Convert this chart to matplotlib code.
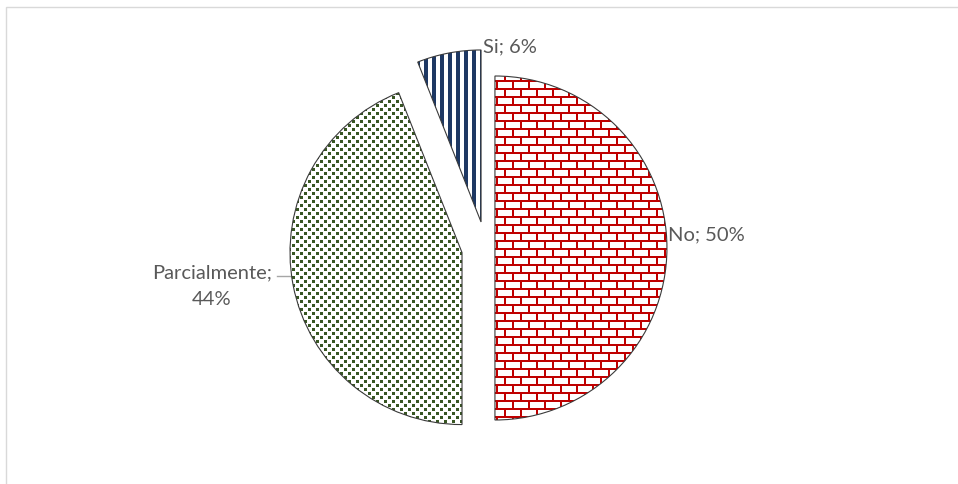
import numpy as np
import matplotlib
matplotlib.use("Agg")
import matplotlib.pyplot as plt
from matplotlib.patches import Rectangle

# data
labels = ["No", "Parcialmente", "Si"]
values = [50, 44, 6]
explode = [0.052, 0.142, 0.154]   # fraction of the radius

W, H = 958, 484
fig = plt.figure(figsize=(W / 100, H / 100), dpi=100)
ax = fig.add_axes([0, 0, 1, 1])
ax.set_axis_off()

# pie in pixel units (y measured from the bottom)
cx, cy, R = 486, H - 248, 172
wedges, _ = ax.pie(values, explode=[e * R for e in explode], startangle=90,
                   counterclock=False, colors=["white"] * 3,
                   center=(cx, cy), radius=R,
                   wedgeprops=dict(edgecolor="#3a3a3a", linewidth=0.8))

# fill textures (tiles repeated over the whole figure)
def tile_img(tile, rgb):
    reps = (H // tile.shape[0] + 1, W // tile.shape[1] + 1)
    m = np.tile(tile, reps)[:H, :W]
    img = np.ones((H, W, 3))
    img[m == 1] = rgb
    return img

# bricks
brick = np.zeros((16, 16), int)
brick[0:2, :] = 1
brick[2:8, 0:2] = 1
brick[8:10, :] = 1
brick[10:16, 8:10] = 1

# confetti squares
dots = np.zeros((8, 8), int)
dots[0:3, 0:3] = 1
dots[4:7, 4:7] = 1

# vertical stripes
stripes = np.zeros((1, 8), int)
stripes[0, 0:4] = 1

textures = [(brick, (0.75, 0.0, 0.0)),
            (dots, (0.22, 0.34, 0.14)),
            (stripes, (0.12, 0.22, 0.39))]

for w, (t, col) in zip(wedges, textures):
    im = ax.imshow(tile_img(t, col)[::-1], origin="lower", extent=(0, W, 0, H),
                   interpolation="nearest", zorder=2)
    im.set_clip_path(w)
    w.set_facecolor("none")
    w.set_zorder(3)

ax.set_xlim(0, W)
ax.set_ylim(0, H)
ax.set_aspect("auto")

# labels
fnt = dict(family=["Lato", "DejaVu Sans"], fontsize=14.5, color="#595959")
ax.text(668, H - 235, "No; 50%", ha="left", va="center", **fnt)
ax.text(483, H - 47, "Si; 6%", ha="left", va="center", **fnt)
ax.text(212, H - 286, "Parcialmente;\n44%", ha="center", va="center",
        linespacing=1.7, **fnt)
ax.plot([277, 290], [H - 276, H - 276], color="#a6a6a6", lw=1)

# chart frame
fig.patches.append(Rectangle((6 / W, -0.1), 1.1, (H - 7) / H + 0.1,
                             transform=fig.transFigure, fill=False,
                             edgecolor="#d9d9d9", linewidth=1))

fig.savefig("out.png", dpi=100)
